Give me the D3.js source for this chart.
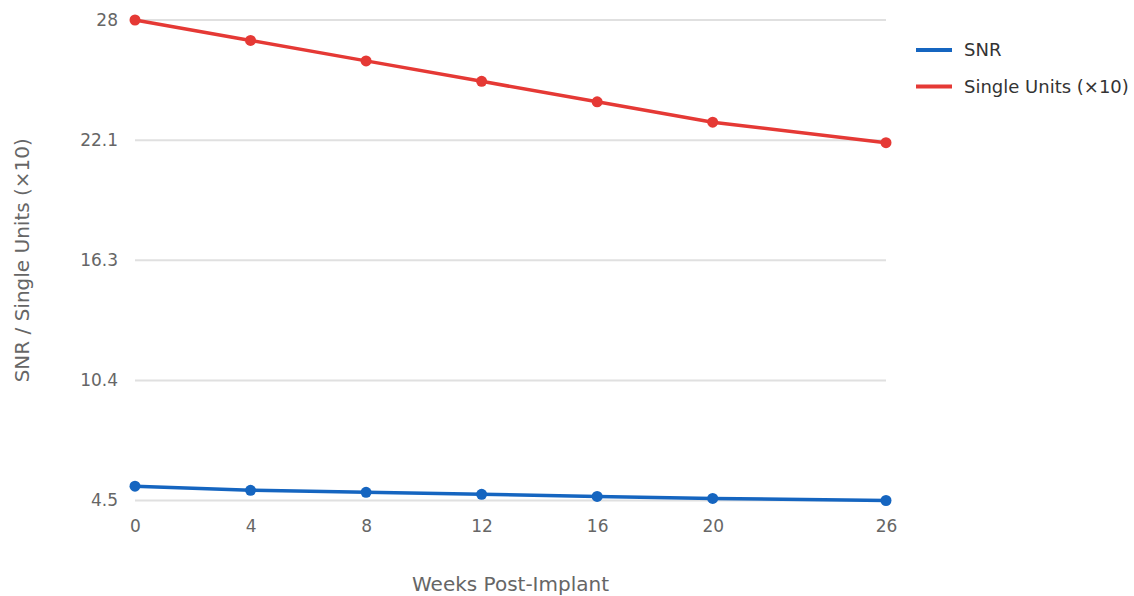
<!DOCTYPE html>
<html><head><meta charset="utf-8">
<script src="https://cdn.jsdelivr.net/npm/d3@7"></script>
<style>body{margin:0;background:#fff;}svg{display:block;font-family:"DejaVu Sans",sans-serif;}</style>
</head><body>
<svg id="c" width="1134" height="596"></svg>
<script>
const weeks = [0, 4, 8, 12, 16, 20, 26];
const snr = [5.2, 5.0, 4.9, 4.8, 4.7, 4.6, 4.5];
const singleUnits = [28.0, 27.0, 26.0, 25.0, 24.0, 23.0, 22.0];
const yTicks = [4.5, 10.375, 16.25, 22.125, 28];
const seriesNames = ["SNR", "Single Units (×10)"];
const seriesColors = ["#1565C0", "#E53935"];

const svg = d3.select("#c");
const m = {l:135, r:886, t:20, b:500.5};
const x = d3.scaleLinear().domain([0, 26]).range([m.l, m.r]);
const y = d3.scaleLinear().domain([4.5, 28]).range([m.b, m.t]);

// grid
svg.append("g").selectAll("line").data(yTicks).join("line")
  .attr("x1", m.l).attr("x2", m.r)
  .attr("y1", d => y(d)).attr("y2", d => y(d))
  .attr("stroke", "#e0e0e0").attr("stroke-width", 2);

// y axis
const ya = svg.append("g").attr("transform", `translate(${m.l},0)`)
  .call(d3.axisLeft(y).tickValues(yTicks).tickSize(0).tickPadding(17).tickFormat(d => +d.toFixed(1)));
ya.select(".domain").remove();
ya.selectAll("text").attr("fill", "#666").style("font-size", "17px").style("font-family", "DejaVu Sans");

// x axis
const xa = svg.append("g").attr("transform", `translate(0,${m.b})`)
  .call(d3.axisBottom(x).tickValues(weeks).tickSize(0).tickPadding(19).tickFormat(d3.format("d")));
xa.select(".domain").remove();
xa.selectAll("text").attr("fill", "#666").style("font-size", "17px").style("font-family", "DejaVu Sans");

// titles
svg.append("text").attr("x", (m.l + m.r) / 2).attr("y", 591)
  .attr("text-anchor", "middle").attr("fill", "#666").style("font-size", "20px")
  .text("Weeks Post-Implant");
svg.append("text").attr("transform", `translate(29,${(m.t + m.b) / 2}) rotate(-90)`)
  .attr("text-anchor", "middle").attr("fill", "#666").style("font-size", "20px")
  .text("SNR / Single Units (×10)");

const series = [snr, singleUnits];
const line = d3.line().x((d, i) => x(weeks[i])).y(d => y(d));
series.forEach((s, k) => {
  svg.append("path").datum(s).attr("d", line).attr("fill", "none")
    .attr("stroke", seriesColors[k]).attr("stroke-width", 3.5);
  svg.append("g").selectAll("circle").data(s).join("circle")
    .attr("cx", (d, i) => x(weeks[i])).attr("cy", d => y(d)).attr("r", 5.5)
    .attr("fill", seriesColors[k]);
});

// legend
const lg = svg.append("g").attr("transform", "translate(916,50)");
seriesNames.forEach((n, k) => {
  const g = lg.append("g").attr("transform", `translate(0,${k * 36.5})`);
  g.append("line").attr("x1", 0).attr("x2", 36).attr("y1", 0).attr("y2", 0)
    .attr("stroke", seriesColors[k]).attr("stroke-width", 4);
  g.append("text").attr("x", 48).attr("y", 0).attr("dy", "0.35em")
    .attr("fill", "#333").style("font-size", "18px").text(n);
});
</script>
</body></html>
